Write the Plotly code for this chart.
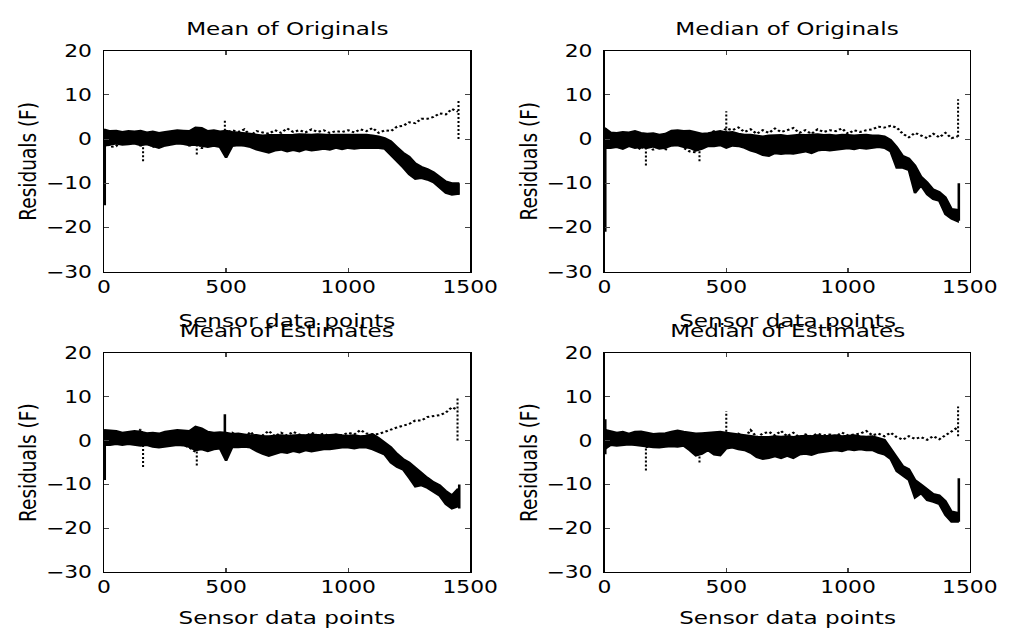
import plotly.graph_objects as go

# ---------------- data ----------------
X = [0, 25, 50, 75, 100, 125, 150, 175, 200, 225, 250, 275, 300, 325, 350, 375, 400, 425, 450, 475,
     500, 525, 550, 575, 600, 625, 650, 675, 700, 725, 750, 775, 800, 825, 850, 875, 900, 925, 950, 975,
     1000, 1025, 1050, 1075, 1100, 1125, 1150, 1175, 1200, 1225, 1250, 1275, 1300, 1325, 1350, 1375,
     1400, 1425, 1450]

titles = ["Mean of Originals", "Median of Originals", "Mean of Estimates", "Median of Estimates"]
x_label = "Sensor data points"
y_label = "Residuals (F)"
x_ticks = [0, 500, 1000, 1500]
y_ticks = [-30, -20, -10, 0, 10, 20]

# Mean of Originals
mo_hi = [2.2, 1.8, 1.9, 1.6, 1.8, 1.7, 1.9, 1.5, 1.7, 1.4, 1.6, 1.8, 2.0, 1.9, 1.8, 2.6, 2.5, 1.8, 2.0, 1.7,
         1.9, 1.6, 1.5, 1.3, 1.2, 1.0, 0.8, 0.9, 0.9, 0.9, 1.0, 1.0, 1.1, 1.0, 1.0, 1.1, 1.0, 0.9, 1.0, 1.0,
         1.0, 0.9, 0.9, 1.0, 0.8, 0.6, 0.2, -0.5, -1.8, -3.1, -4.0, -5.5, -6.3, -6.8, -7.5, -8.5,
         -9.6, -10.0, -10.0]
mo_lo = [-1.5, -1.2, -1.0, -1.3, -1.2, -1.0, -1.4, -1.2, -1.6, -2.0, -1.5, -1.2, -1.0, -1.1, -1.4, -1.3, -1.5, -1.8, -1.5, -1.8,
         -4.2, -1.6, -1.4, -1.5, -1.8, -2.4, -2.8, -3.1, -2.6, -2.4, -2.8, -2.5, -2.8, -2.3, -2.6, -2.4, -2.2, -2.4, -2.0, -2.3,
         -2.0, -2.2, -2.0, -2.1, -2.0, -2.0, -2.2, -3.8, -5.0, -6.4, -8.0, -9.0, -8.8, -9.2, -9.8, -11.0,
         -12.2, -12.6, -12.4]
mo_dot = [0.5, -1.8, -1.6, 0.4, 0.2, 1.0, -1.6, 0.5, -2.0, 0.2, 0.6, 1.2, 1.0, 0.5, -1.6, 1.4, -2.2, 0.8, 1.2, 0.8,
          1.4, 2.0, 1.6, 2.2, 0.8, 1.8, 1.5, 1.2, 2.0, 1.4, 2.4, 1.6, 2.0, 1.5, 2.2, 1.6, 2.0, 1.4, 1.8, 1.6,
          2.0, 1.5, 2.2, 1.8, 2.5, 1.4, 2.0, 1.8, 2.8, 3.0, 3.8, 3.6, 4.6, 4.6, 5.0, 5.8,
          5.6, 6.8, 6.2]
mo_spk_x = [3, 1452]
mo_spk_lo = [-15.0, -12.6]
mo_spk_hi = [2.0, -10.0]
mo_dspk_x = [160, 380, 495, 1452]
mo_dspk_lo = [-5.0, -3.5, 1.0, 0.0]
mo_dspk_hi = [-1.0, -1.0, 4.5, 9.0]

# Median of Originals
md_hi = [2.5, 1.5, 1.4, 1.6, 1.5, 1.8, 1.4, 1.2, 1.3, 1.0, 1.2, 1.9, 2.0, 1.8, 1.9, 1.6, 1.2, 1.3, 1.6, 1.8,
         1.5, 1.6, 1.2, 1.0, 1.0, 0.8, 0.6, 0.8, 0.8, 0.9, 0.7, 0.9, 1.0, 0.9, 1.0, 1.1, 0.9, 1.0, 0.8, 1.0,
         0.9, 0.8, 0.9, 1.0, 0.8, 0.8, 0.6, -0.2, -1.8, -3.8, -4.4, -6.0, -8.5, -9.8, -11.4, -12.0,
         -13.2, -15.8, -16.0]
md_lo = [-2.0, -2.0, -1.8, -2.2, -1.6, -2.0, -1.8, -2.0, -1.7, -2.2, -2.0, -1.5, -1.4, -1.8, -2.0, -2.6, -2.2, -1.6, -1.6, -1.4,
         -2.0, -1.5, -1.6, -2.0, -2.6, -3.0, -3.6, -3.8, -3.2, -3.4, -3.2, -3.3, -3.0, -2.8, -3.2, -2.6, -2.4, -2.6, -2.4, -2.2,
         -2.1, -2.3, -2.0, -2.2, -2.0, -1.8, -2.0, -2.8, -6.5, -6.5, -7.0, -12.2, -10.5, -12.5, -13.6, -14.0,
         -17.0, -18.0, -18.6]
md_dot = [0.5, -1.6, 0.3, -0.5, 0.8, -1.4, -2.4, 0.4, -2.5, 0.2, -2.6, 0.8, 1.2, -2.0, -2.8, -3.0, 0.6, 1.0, 1.8, 1.2,
          2.4, 2.0, 2.6, 1.6, 2.2, 1.2, 2.0, 1.4, 2.4, 1.6, 2.0, 2.5, 1.4, 2.0, 1.2, 2.2, 1.6, 2.0, 1.8, 2.4,
          1.2, 2.0, 1.6, 2.0, 2.2, 2.8, 2.6, 3.0, 2.6, 1.2, 0.4, 1.4, 0.8, 0.2, 1.2, 0.4,
          1.4, 0.2, 0.6]
md_spk_x = [3, 1455]
md_spk_lo = [-21.0, -18.5]
md_spk_hi = [2.5, -10.0]
md_dspk_x = [170, 390, 500, 1452]
md_dspk_lo = [-6.0, -5.0, 1.5, 0.5]
md_dspk_hi = [-1.0, -1.5, 6.3, 9.0]

# Mean of Estimates
me_hi = [2.4, 2.3, 2.2, 1.8, 2.0, 2.2, 2.0, 1.7, 1.8, 1.6, 2.0, 2.2, 2.4, 2.3, 2.2, 3.2, 2.8, 2.0, 1.8, 1.9,
         1.8, 1.5, 1.6, 1.4, 1.2, 1.3, 1.0, 1.0, 1.1, 1.2, 1.1, 1.2, 1.3, 1.2, 1.4, 1.3, 1.2, 1.3, 1.4, 1.2,
         1.1, 1.2, 1.0, 1.1, 1.5, 0.6, -0.5, -1.5, -3.0, -4.2, -5.0, -6.2, -7.5, -8.5, -9.5, -10.2,
         -11.5, -12.5, -11.0]
me_lo = [-1.0, -1.0, -0.8, -1.0, -0.8, -1.0, -1.2, -1.0, -1.4, -1.6, -1.4, -1.2, -1.0, -1.1, -1.5, -2.2, -2.0, -2.4, -2.0, -1.8,
         -4.6, -1.5, -1.5, -1.4, -1.6, -2.4, -3.0, -3.5, -3.0, -2.6, -2.8, -2.4, -2.7, -2.2, -2.5, -2.2, -2.0, -2.0, -1.8, -1.6,
         -1.6, -1.8, -1.5, -1.6, -2.0, -2.5, -3.2, -5.0, -6.0, -6.6, -8.5, -10.5, -10.2, -10.8, -11.6, -12.6,
         -14.5, -15.5, -15.0]
me_dot = [0.6, -0.2, 0.4, -0.5, 0.8, 0.2, 2.6, -1.2, 0.6, -0.4, 1.0, 0.4, 0.8, -1.0, -1.6, -2.6, -0.8, 0.6, 1.2, 0.8,
          1.2, 1.8, 1.0, 0.6, 2.0, 0.5, 1.2, 2.2, 1.0, 1.8, 1.2, 2.0, 1.4, 1.0, 1.8, 1.2, 1.6, 1.0, 1.4, 1.2,
          1.8, 1.4, 2.4, 1.6, 1.4, 1.5, 2.0, 2.6, 3.0, 3.4, 3.8, 4.6, 4.6, 5.4, 5.6, 5.8,
          6.4, 7.6, 7.0]
me_spk_x = [3, 495, 1455]
me_spk_lo = [-9.0, 1.8, -15.5]
me_spk_hi = [2.4, 6.0, -10.0]
me_dspk_x = [160, 380, 1448]
me_dspk_lo = [-6.0, -5.7, 0.0]
me_dspk_hi = [-1.0, -1.5, 9.6]

# Median of Estimates
mde_hi = [2.5, 2.2, 1.8, 2.0, 1.6, 2.0, 2.1, 1.8, 1.5, 1.6, 1.7, 2.0, 2.3, 2.0, 1.8, 1.6, 1.7, 1.8, 1.9, 2.0,
          1.8, 1.6, 1.4, 1.2, 1.0, 0.9, 0.8, 0.8, 1.0, 0.9, 1.0, 0.8, 1.0, 1.1, 1.0, 1.2, 1.0, 1.1, 1.2, 1.0,
          1.1, 1.2, 1.0, 0.9, 1.0, 0.6, 0.2, -1.8, -3.8, -5.8, -6.5, -9.0, -10.0, -11.2, -12.2, -12.5,
          -13.8, -16.2, -16.5]
mde_lo = [-2.0, -1.0, -1.2, -1.0, -0.9, -1.0, -1.1, -1.3, -1.5, -1.6, -1.4, -1.3, -1.4, -1.2, -2.2, -3.4, -3.0, -2.2, -3.2, -3.4,
          -1.8, -1.6, -2.0, -2.2, -2.8, -3.8, -4.2, -4.0, -3.6, -4.0, -3.5, -4.0, -3.2, -3.0, -3.3, -2.8, -2.6, -2.4, -2.2, -2.4,
          -2.0, -2.2, -2.0, -2.2, -2.2, -2.8, -3.2, -4.2, -7.0, -8.0, -9.0, -13.0, -12.0, -13.6, -14.0, -14.5,
          -17.0, -18.5, -18.5]
mde_dot = [0.4, -0.3, 0.8, 0.2, 1.0, -0.5, 0.6, -1.6, 0.4, -1.4, 0.8, 0.4, 1.2, 0.6, -2.0, -3.0, -1.4, 0.8, 1.4, 1.0,
           1.8, 1.2, 1.6, 0.6, 2.4, 0.8, 1.6, 2.0, 1.2, 2.2, 1.0, 1.8, 0.8, 1.4, 1.0, 1.6, 1.2, 1.4, 1.0, 1.8,
           1.2, 1.4, 1.6, 2.2, 1.2, 1.6, 1.0, 1.8, 0.8, 0.2, 1.0, 0.4, 0.8, 0.2, 1.0, 0.3,
           1.2, 2.0, 3.0]
mde_spk_x = [3, 1455]
mde_spk_lo = [-3.1, -18.5]
mde_spk_hi = [4.9, -8.6]
mde_dspk_x = [170, 390, 500, 1452]
mde_dspk_lo = [-6.8, -5.0, 2.0, 1.0]
mde_dspk_hi = [-1.0, -2.0, 6.7, 7.8]

panels = [
    (mo_hi, mo_lo, mo_dot, mo_spk_x, mo_spk_lo, mo_spk_hi, mo_dspk_x, mo_dspk_lo, mo_dspk_hi),
    (md_hi, md_lo, md_dot, md_spk_x, md_spk_lo, md_spk_hi, md_dspk_x, md_dspk_lo, md_dspk_hi),
    (me_hi, me_lo, me_dot, me_spk_x, me_spk_lo, me_spk_hi, me_dspk_x, me_dspk_lo, me_dspk_hi),
    (mde_hi, mde_lo, mde_dot, mde_spk_x, mde_spk_lo, mde_spk_hi, mde_dspk_x, mde_dspk_lo, mde_dspk_hi),
]

# ---------------- layout geometry ----------------
# The reference is a horizontally stretched screenshot: draw at 800 px wide and stretch to 1027.
W_OUT, H = 1027, 644
W = 800
STRETCH = W_OUT / W
col_px = [(101, 480), (619, 997)]      # in output pixels
row_px = [(42, 270), (354, 580)]
title_y = [19, 331]
xlabel_y = [320, 627]
FONT = "DejaVu Sans"
FS_TICK = 17
FS_TXT = 18
FS_Y = 18.5

fig = go.Figure()
layout = dict(width=W, height=H, autosize=False, margin=dict(l=0, r=0, t=0, b=0, pad=0),
              paper_bgcolor="white", plot_bgcolor="white", showlegend=False,
              font=dict(family=FONT, size=FS_TXT, color="black"))
annotations = []


def segs(xs, lo, hi):
    sx, sy = [], []
    for x, a, b in zip(xs, lo, hi):
        sx += [x, x, None]
        sy += [a, b, None]
    return sx, sy


for i, p in enumerate(panels):
    hi, lo, dot, sx_, slo, shi, dx_, dlo, dhi = p
    r, c = divmod(i, 2)
    n = i + 1
    xa = "x" if n == 1 else f"x{n}"
    ya = "y" if n == 1 else f"y{n}"
    x0, x1 = col_px[c]
    y0, y1 = row_px[r]
    dom_x = [x0 / W_OUT, x1 / W_OUT]
    dom_y = [1 - y1 / H, 1 - y0 / H]
    ax = dict(domain=dom_x, range=[0, 1500], tickvals=x_ticks, ticks="inside", ticklen=4,
              showline=True, linecolor="black", linewidth=1, mirror="allticks",
              showgrid=False, zeroline=False, anchor=ya, ticklabelstandoff=0,
              tickfont=dict(family=FONT, size=FS_TICK, color="black"))
    ay = dict(domain=dom_y, range=[-30, 20], tickvals=y_ticks, ticks="inside", ticklen=4,
              showline=True, linecolor="black", linewidth=1, mirror="allticks",
              showgrid=False, zeroline=False, anchor=xa, ticklabelstandoff=5,
              tickfont=dict(family=FONT, size=FS_TICK, color="black"))
    layout["xaxis" if n == 1 else f"xaxis{n}"] = ax
    layout["yaxis" if n == 1 else f"yaxis{n}"] = ay

    # thick solid residual trace (drawn as its envelope)
    fig.add_trace(go.Scatter(x=X + X[::-1], y=hi + lo[::-1], mode="lines", fill="toself",
                             fillcolor="black", line=dict(color="black", width=2),
                             xaxis=xa, yaxis=ya, hoverinfo="skip"))
    sx, sy = segs(sx_, slo, shi)
    fig.add_trace(go.Scatter(x=sx, y=sy, mode="lines", line=dict(color="black", width=2),
                             xaxis=xa, yaxis=ya, hoverinfo="skip"))
    # dotted residual trace
    fig.add_trace(go.Scatter(x=X, y=dot, mode="lines", line=dict(color="black", width=2, dash="2px,2px"),
                             xaxis=xa, yaxis=ya, hoverinfo="skip"))
    dx, dy = segs(dx_, dlo, dhi)
    fig.add_trace(go.Scatter(x=dx, y=dy, mode="lines", line=dict(color="black", width=1.6, dash="2px,2px"),
                             xaxis=xa, yaxis=ya, hoverinfo="skip"))

    cx = (x0 + x1) / 2 / W_OUT
    annotations.append(dict(text=titles[i], x=cx, y=1 - title_y[r] / H, xref="paper", yref="paper",
                            showarrow=False, xanchor="center", yanchor="middle",
                            font=dict(family=FONT, size=FS_TXT, color="black")))
    annotations.append(dict(text=x_label, x=cx, y=1 - xlabel_y[r] / H, xref="paper", yref="paper",
                            showarrow=False, xanchor="center", yanchor="middle",
                            font=dict(family=FONT, size=FS_TXT, color="black")))
    annotations.append(dict(text=y_label, x=(x0 - 79) / W_OUT, y=1 - (y0 + y1) / 2 / H, xref="paper",
                            yref="paper", showarrow=False, xanchor="center", yanchor="middle",
                            textangle=-90, font=dict(family=FONT, size=FS_Y, color="black")))

layout["annotations"] = annotations
fig.update_layout(**layout)

post = ("document.body.style.margin='0';document.body.style.overflow='hidden';"
        "var gd=document.getElementById('{plot_id}');"
        "gd.style.transformOrigin='0 0';gd.style.transform='scaleX(%.5f)';" % STRETCH)
fig.write_html("out.html", post_script=post, config={"displayModeBar": False})
